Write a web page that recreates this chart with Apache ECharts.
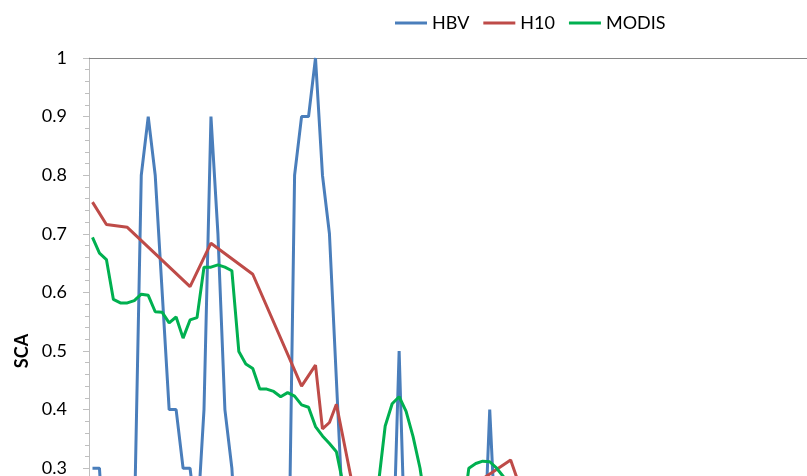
<!DOCTYPE html>
<html>
<head>
<meta charset="utf-8">
<script src="https://cdn.jsdelivr.net/npm/echarts@6/dist/echarts.min.js"></script>
<style>
  html, body { margin: 0; padding: 0; overflow: hidden; background: #ffffff; }
  #chart { width: 1060px; height: 700px; }
</style>
</head>
<body>
<div id="chart"></div>
<script>
// Snow covered area (SCA) per day: HBV model, H10 product and MODIS
const seriesNames = ['HBV', 'H10', 'MODIS'];

const hbv = [
  0.3, 0.3, 0.1, 0.1, 0.1, 0.1, 0.2, 0.8, 0.9, 0.8,
  0.6, 0.4, 0.4, 0.3, 0.3, 0.2, 0.4, 0.9, 0.7, 0.4,
  0.3, 0.1, 0.1, 0.1, 0.1, 0.1, 0.1, 0.1, 0.0, 0.8,
  0.9, 0.9, 1.0, 0.8, 0.7, 0.45, 0.2, 0.1, 0.1, 0.1,
  0.1, 0.1, 0.1, 0.1, 0.5, 0.1, 0.1, 0.1, 0.1, 0.1,
  0.1, 0.1, 0.1, 0.1, 0.1, 0.1, 0.1, 0.4, 0.15, 0.1,
  0.1, 0.1, 0.1
];

// H10 is only available on some days; gaps are bridged
const h10 = [
  0.754, null, 0.716, null, null, 0.711, null, null, null, null,
  null, null, null, null, 0.610, null, null, 0.684, null, null,
  null, null, null, 0.631, null, null, null, null, null, null,
  0.440, null, 0.476, 0.367, 0.378, 0.409, null, null, 0.23, null,
  null, null, null, null, null, null, null, null, null, null,
  null, null, 0.25, null, null, null, null, null, null, null,
  0.314, 0.28, 0.22
];

const modis = [
  0.694, 0.667, 0.656, 0.588, 0.582, 0.582, 0.586, 0.597, 0.595, 0.567,
  0.566, 0.548, 0.558, 0.522, 0.553, 0.557, 0.643, 0.643, 0.647, 0.643,
  0.637, 0.499, 0.478, 0.470, 0.435, 0.435, 0.431, 0.422, 0.429, 0.423,
  0.408, 0.404, 0.371, 0.355, 0.342, 0.328, 0.27, 0.2, 0.2, 0.2,
  0.2, 0.27, 0.372, 0.410, 0.422, 0.397, 0.354, 0.30, 0.22, 0.2,
  0.2, 0.2, 0.2, 0.21, 0.300, 0.308, 0.312, 0.311, 0.300, 0.285,
  0.25, 0.22, 0.2
];

const yTicks = { min: 0, max: 1, step: 0.1 };
const dayCount = 130;
const days = [];
for (let d = 1; d <= dayCount; d++) days.push(String(d));

const colors = ['#4a7ebb', '#be4b48', '#00b050'];
const font = '"Lato", sans-serif';

const chart = echarts.init(document.getElementById('chart'), null, { renderer: 'canvas' });

chart.setOption({
  animation: false,
  color: colors,
  legend: {
    left: 390,
    top: 9,
    icon: 'rect',
    itemWidth: 32,
    itemHeight: 3,
    itemGap: 14,
    textStyle: { fontFamily: font, fontSize: 18, color: '#000000' },
    data: seriesNames
  },
  grid: { left: 89, top: 58, width: 906, height: 586, show: false },
  xAxis: [
    {
      type: 'category',
      data: days,
      boundaryGap: true,
      position: 'bottom',
      axisLine: { lineStyle: { color: '#868686' } },
      axisTick: { show: false },
      axisLabel: { show: false },
      splitLine: { show: false }
    },
    {
      type: 'category',
      data: days,
      position: 'top',
      axisLine: { lineStyle: { color: '#868686', width: 1 } },
      axisTick: { show: false },
      axisLabel: { show: false },
      splitLine: { show: false }
    }
  ],
  yAxis: {
    type: 'value',
    min: yTicks.min,
    max: yTicks.max,
    interval: yTicks.step,
    name: 'SCA',
    nameLocation: 'middle',
    nameGap: 53,
    nameTextStyle: { fontFamily: font, fontSize: 18, fontWeight: 'bold', color: '#000000' },
    axisLine: { show: true, lineStyle: { color: '#bfbfbf', width: 1 } },
    axisTick: { show: true, inside: false, length: 6, lineStyle: { color: '#bfbfbf' } },
    minorTick: { show: true, splitNumber: 5, length: 4, lineStyle: { color: '#bfbfbf' } },
    axisLabel: { margin: 22, fontFamily: font, fontSize: 18, color: '#000000' },
    splitLine: { show: false }
  },
  series: [
    {
      name: 'HBV', type: 'line', data: hbv, symbol: 'none',
      lineStyle: { width: 3, color: colors[0] }
    },
    {
      name: 'H10', type: 'line', data: h10, symbol: 'none', connectNulls: true,
      lineStyle: { width: 3, color: colors[1] }
    },
    {
      name: 'MODIS', type: 'line', data: modis, symbol: 'none',
      lineStyle: { width: 3, color: colors[2] }
    }
  ]
});
</script>
</body>
</html>
